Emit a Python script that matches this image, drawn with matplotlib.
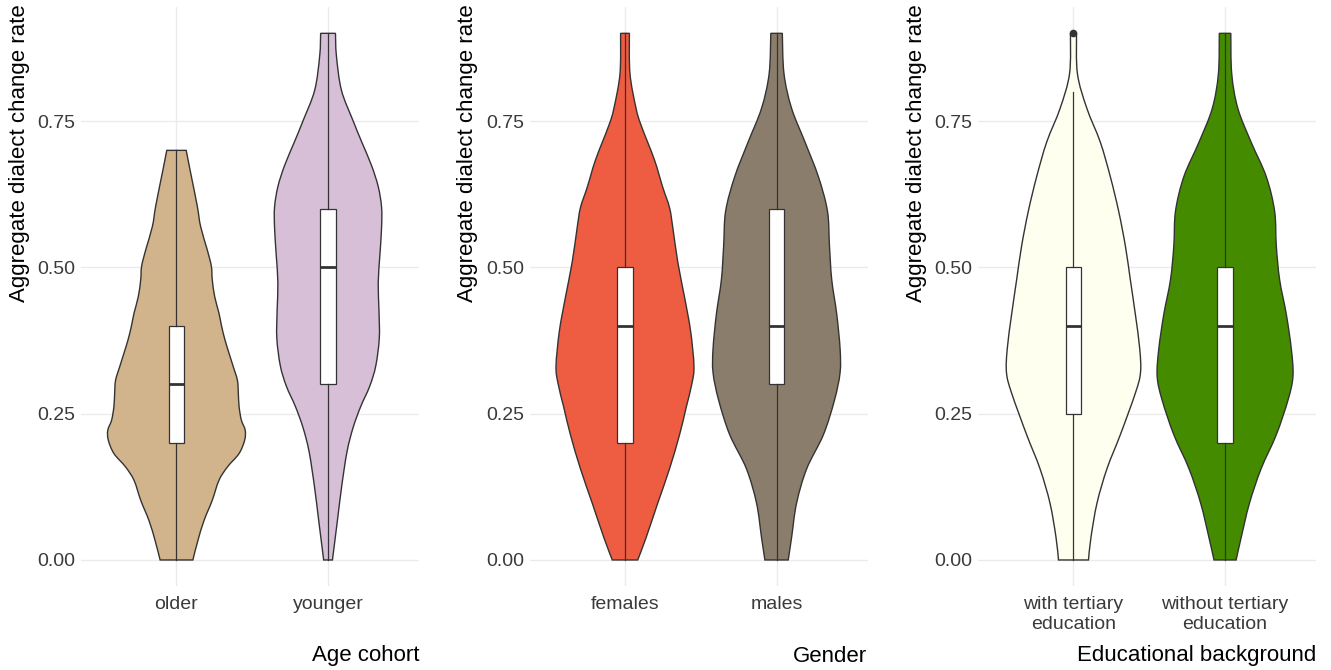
import numpy as np
import matplotlib.pyplot as plt
from matplotlib.path import Path
from matplotlib.patches import PathPatch

plt.rcParams['font.family'] = ['Liberation Sans', 'DejaVu Sans']

# ---- data -------------------------------------------------------------
y_title = "Aggregate dialect change rate"
panel_titles = ["Age cohort", "Gender", "Educational background"]
panel_categories = [
    ["older", "younger"],
    ["females", "males"],
    ["with tertiary\neducation", "without tertiary\neducation"],
]
panel_colors = [
    ["#D2B48C", "#D8BFD8"],
    ["#EE5C42", "#8B7D6B"],
    ["#FFFFF0", "#458B00"],
]
y_ticks = [0.0, 0.25, 0.50, 0.75]

# violin outlines: change-rate levels and half-widths (in category units)
older_y = [0.0, 0.033, 0.067, 0.102, 0.136, 0.159, 0.182, 0.205, 0.222, 0.239,
           0.262, 0.285, 0.307, 0.330, 0.353, 0.376, 0.399, 0.422, 0.450, 0.479,
           0.502, 0.530, 0.570, 0.605, 0.662, 0.70]
older_w = [0.108, 0.141, 0.181, 0.236, 0.280, 0.336, 0.413, 0.450, 0.453, 0.428,
           0.413, 0.408, 0.402, 0.375, 0.347, 0.320, 0.298, 0.280, 0.252, 0.236,
           0.230, 0.203, 0.159, 0.137, 0.093, 0.064]

younger_y = [0.0, 0.068, 0.126, 0.185, 0.226, 0.262, 0.297, 0.332, 0.379, 0.426,
             0.474, 0.521, 0.568, 0.603, 0.638, 0.674, 0.715, 0.75, 0.803, 0.862, 0.9]
younger_w = [0.029, 0.062, 0.090, 0.125, 0.165, 0.215, 0.275, 0.315, 0.338, 0.336,
             0.331, 0.342, 0.353, 0.353, 0.331, 0.287, 0.221, 0.166, 0.088, 0.055, 0.049]

females_y = [0.0, 0.038, 0.097, 0.156, 0.214, 0.261, 0.302, 0.332, 0.391, 0.449,
             0.508, 0.567, 0.602, 0.637, 0.684, 0.743, 0.772, 0.831, 0.9]
females_w = [0.084, 0.139, 0.216, 0.294, 0.360, 0.404, 0.442, 0.455, 0.433, 0.393,
             0.349, 0.316, 0.294, 0.249, 0.194, 0.106, 0.073, 0.033, 0.029]

males_y = [0.0, 0.038, 0.097, 0.156, 0.214, 0.273, 0.320, 0.361, 0.420, 0.479,
           0.537, 0.596, 0.655, 0.714, 0.772, 0.831, 0.9]
males_w = [0.077, 0.099, 0.132, 0.199, 0.309, 0.382, 0.419, 0.419, 0.397, 0.364,
           0.349, 0.336, 0.276, 0.188, 0.099, 0.049, 0.038]

with_y = [0.0, 0.038, 0.097, 0.156, 0.214, 0.285, 0.320, 0.361, 0.420, 0.479,
          0.537, 0.596, 0.655, 0.714, 0.772, 0.831, 0.9]
with_w = [0.099, 0.115, 0.155, 0.221, 0.309, 0.408, 0.442, 0.437, 0.408, 0.375,
          0.342, 0.298, 0.243, 0.177, 0.088, 0.026, 0.020]

without_y = [0.0, 0.038, 0.097, 0.156, 0.214, 0.273, 0.314, 0.361, 0.420, 0.479,
             0.537, 0.596, 0.655, 0.714, 0.772, 0.831, 0.9]
without_w = [0.073, 0.106, 0.161, 0.238, 0.338, 0.415, 0.448, 0.437, 0.404, 0.360,
             0.338, 0.327, 0.272, 0.172, 0.084, 0.044, 0.038]

violin_y = [[older_y, younger_y], [females_y, males_y], [with_y, without_y]]
violin_w = [[older_w, younger_w], [females_w, males_w], [with_w, without_w]]

# boxplot summaries per group
box_q1 = [[0.20, 0.30], [0.20, 0.30], [0.25, 0.20]]
box_med = [[0.30, 0.50], [0.40, 0.40], [0.40, 0.40]]
box_q3 = [[0.40, 0.60], [0.50, 0.60], [0.50, 0.50]]
box_lo = [[0.0, 0.0], [0.0, 0.0], [0.0, 0.0]]
box_hi = [[0.70, 0.90], [0.90, 0.90], [0.80, 0.90]]
box_out = [[[], []], [[], []], [[0.90], []]]


def smooth_side(pts):
    """Catmull-Rom curve through pts, returned as cubic Bezier vertices/codes."""
    pts = np.asarray(pts, float)
    ext = np.vstack([pts[0], pts, pts[-1]])
    verts, codes = [], []
    for k in range(1, len(ext) - 2):
        p0, p1, p2, p3 = ext[k - 1], ext[k], ext[k + 1], ext[k + 2]
        c1 = p1 + (p2 - p0) / 6.0
        c2 = p2 - (p3 - p1) / 6.0
        verts += [c1, c2, p2]
        codes += [Path.CURVE4] * 3
    return verts, codes


def violin_patch(pos, ys, ws, color):
    ys = np.asarray(ys, float)
    ws = np.asarray(ws, float)
    right = np.column_stack([pos + ws, ys])
    left = np.column_stack([pos - ws, ys])[::-1]
    verts = [right[0]]
    codes = [Path.MOVETO]
    v, c = smooth_side(right)
    verts += v
    codes += c
    verts.append(left[0])
    codes.append(Path.LINETO)
    v, c = smooth_side(left)
    verts += v
    codes += c
    verts.append(right[0])
    codes.append(Path.CLOSEPOLY)
    return PathPatch(Path(verts, codes), facecolor=color, edgecolor="#333333",
                     linewidth=1.0, zorder=2)


# ---- figure -----------------------------------------------------------
W, H = 1331, 670
fig = plt.figure(figsize=(W / 100, H / 100), dpi=100)

line_col = "#333333"
grid_col = "#EBEBEB"
panel_left_px = [81, 529.5, 978]
panel_w_px = 338
top_px, bot_px = 7, 586.3

for i in range(3):
    ax = fig.add_axes([panel_left_px[i] / W, (H - bot_px) / H,
                       panel_w_px / W, (bot_px - top_px) / H])
    for s in ax.spines.values():
        s.set_visible(False)
    ax.set_axisbelow(True)

    stats = []
    for j in range(2):
        pos = j + 1
        ax.add_patch(violin_patch(pos, violin_y[i][j], violin_w[i][j],
                                  panel_colors[i][j]))
        stats.append(dict(med=box_med[i][j], q1=box_q1[i][j], q3=box_q3[i][j],
                          whislo=box_lo[i][j], whishi=box_hi[i][j],
                          fliers=box_out[i][j]))
    ax.bxp(stats, positions=[1, 2], widths=0.1, showcaps=False, patch_artist=True,
           manage_ticks=False,
           boxprops=dict(facecolor="white", edgecolor=line_col, linewidth=0.9),
           whiskerprops=dict(color=line_col, linewidth=0.9),
           medianprops=dict(color=line_col, linewidth=2.0),
           flierprops=dict(marker="o", markersize=4.5, markerfacecolor=line_col,
                           markeredgecolor=line_col),
           zorder=3)

    ax.set_xlim(0.37, 2.6)
    ax.set_ylim(-0.045, 0.945)
    ax.grid(True, color=grid_col, linewidth=1.0)
    ax.tick_params(length=0, labelsize=14, labelcolor="#3a3a3a")
    ax.tick_params(axis="y", pad=4)
    ax.tick_params(axis="x", pad=7)
    ax.set_yticks(y_ticks)
    ax.set_yticklabels([f"{t:.2f}" for t in y_ticks])
    ax.set_xticks([1, 2])
    ax.set_xticklabels(panel_categories[i], linespacing=1.2)

    # axis titles anchored to the panel's top-left and bottom-right corners
    fig.text((panel_left_px[i] - 61.5) / W, 1 - 4 / H, y_title, rotation=90,
             ha="center", va="top", fontsize=16, color="black")
    fig.text((panel_left_px[i] + panel_w_px) / W, 1 - 656 / H, panel_titles[i],
             ha="right", va="center", fontsize=16, color="black")

fig.savefig("out.png", dpi=100)
